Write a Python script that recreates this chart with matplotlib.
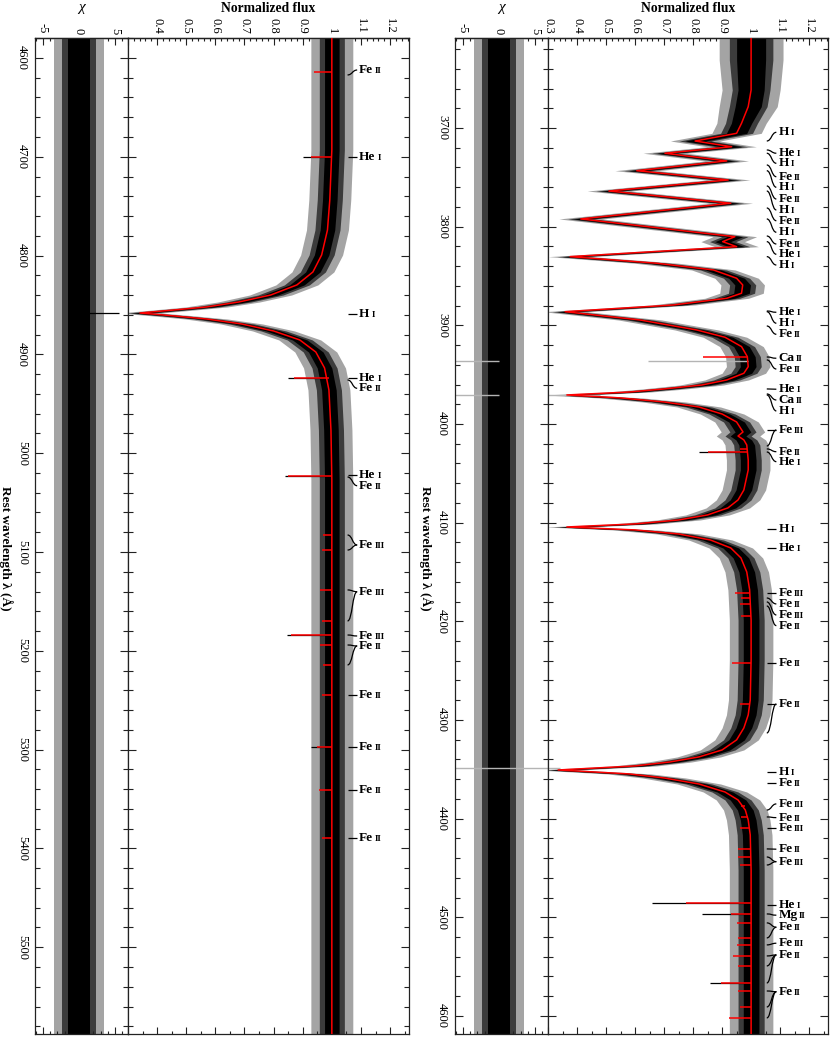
import numpy as np
import matplotlib
matplotlib.use("Agg")
import matplotlib.pyplot as plt
from matplotlib.path import Path
from matplotlib.patches import PathPatch
from matplotlib.ticker import MultipleLocator, FixedLocator, FuncFormatter

plt.rcParams['font.family'] = ['Liberation Serif', 'DejaVu Serif']
plt.rcParams['axes.unicode_minus'] = False

# ---------------- data ----------------
# Right panel: model (red) spectrum
R_MODEL_WL = [3608.8, 3631.1, 3661.5, 3678.4, 3695.2, 3705.4, 3713.2, 3719.0, 3725.6, 3733.4,
              3743.3, 3752.7, 3763.9, 3776.3, 3792.2, 3810.2, 3815.2, 3820.3, 3830.4, 3837.1,
              3843.9, 3852.3, 3859.1, 3867.5, 3872.6, 3879.4, 3886.2, 3894.6, 3904.7, 3912.1,
              3921.6, 3931.8, 3941.9, 3948.6, 3955.4, 3960.5, 3964.5, 3967.6, 3970.6, 3973.6,
              3977.7, 3982.8, 3989.9, 3998.0, 4008.1, 4012.2, 4016.2, 4021.3, 4036.5, 4046.6,
              4066.9, 4077.0, 4085.1, 4092.2, 4097.3, 4101.3, 4104.4, 4107.4, 4111.5, 4117.6,
              4125.7, 4135.8, 4150.0, 4168.2, 4198.6, 4239.1, 4279.7, 4294.9, 4308.1, 4320.2,
              4330.4, 4337.5, 4342.6, 4346.6, 4350.7, 4354.7, 4358.8, 4364.9, 4373.0, 4381.1,
              4391.3, 4401.4, 4416.5, 4452.0, 4512.8, 4583.8, 4618.3]
R_MODEL_FLUX = [1.0, 1.0, 1.0, 0.99, 0.967, 0.95, 0.807, 0.933, 0.703, 0.916,
                0.606, 0.921, 0.510, 0.930, 0.413, 0.944, 0.902, 0.950, 0.376, 0.675,
                0.870, 0.950, 0.971, 0.967, 0.916, 0.732, 0.359, 0.617, 0.812, 0.910,
                0.967, 0.987, 0.990, 0.975, 0.916, 0.83, 0.70, 0.58, 0.365, 0.55,
                0.70, 0.82, 0.90, 0.95, 0.972, 0.955, 0.975, 0.985, 0.99, 0.99,
                0.975, 0.955, 0.92, 0.85, 0.75, 0.60, 0.365, 0.60, 0.75, 0.86,
                0.93, 0.965, 0.985, 0.995, 1.0, 1.0, 0.997, 0.99, 0.975, 0.95,
                0.90, 0.82, 0.72, 0.60, 0.335, 0.58, 0.70, 0.82, 0.91, 0.955,
                0.98, 0.99, 0.997, 1.0, 1.0, 1.0, 1.0]
# narrow metal / helium lines in the model
R_SPIKE_WL = [3932.1, 4025.3, 4028.4, 4171.0, 4176.3, 4182.4, 4194.6, 4241.9, 4283.8, 4387.2,
              4398.3, 4409.5, 4430.8, 4438.9, 4447.0, 4485.5, 4496.6, 4505.7, 4520.9, 4528.0,
              4539.2, 4549.3, 4566.5, 4574.7, 4590.9, 4602.0]
R_SPIKE_MIN = [0.835, 0.96, 0.85, 0.945, 0.965, 0.96, 0.965, 0.935, 0.96, 0.965,
               0.965, 0.96, 0.955, 0.955, 0.96, 0.775, 0.93, 0.95, 0.955, 0.95,
               0.937, 0.955, 0.895, 0.955, 0.96, 0.925]
R_SPIKE_TOP = [0.987, 0.985, 0.985, 0.995, 0.997, 0.998, 1.0, 1.0, 0.997, 0.98,
               0.99, 0.995, 1.0, 1.0, 1.0, 1.0, 1.0, 1.0, 1.0, 1.0,
               1.0, 1.0, 1.0, 1.0, 1.0, 1.0]
# deepest observed (black) spikes
R_OBS_SPIKE_WL = [4028.4, 4485.5, 4496.6, 4566.5]
R_OBS_SPIKE_MIN = [0.82, 0.66, 0.83, 0.86]
# masked (grey) observed points: flux range and residual range
R_MASK_WL = [3935.9, 3970.6, 4348.6]
R_MASK_FLUX_LO = [0.645, 0.28, 0.28]
R_MASK_FLUX_HI = [0.99, 0.48, 0.34]
R_MASK_CHI_LO = [-7.0, -7.0, -7.0]
R_MASK_CHI_HI = [0.0, 0.0, 7.0]
# observed noise level (flux half-widths: dense core, middle, outer spikes)
R_NOISE_EDGES = [3600.0, 3650.0, 3690.0, 3720.0, 4620.0]
R_NOISE_INNER = [0.05, 0.045, 0.035, 0.027]
R_NOISE_MID = [0.075, 0.065, 0.055, 0.045]
R_NOISE_OUTER = [0.11, 0.10, 0.085, 0.075]

# Left panel
L_MODEL_WL = [4579.8, 4642.5, 4693.1, 4743.7, 4774.1, 4799.4, 4816.6, 4829.7, 4839.9, 4847.0,
              4852.0, 4855.0, 4858.1, 4861.1, 4864.2, 4869.2, 4876.3, 4885.4, 4897.6, 4913.8,
              4936.0, 4976.5, 5027.1, 5148.6, 5351.0, 5587.8]
L_MODEL_FLUX = [1.0, 1.0, 1.0, 0.993, 0.985, 0.965, 0.935, 0.88, 0.79, 0.68,
                0.57, 0.46, 0.341, 0.46, 0.57, 0.69, 0.80, 0.89, 0.945, 0.975,
                0.99, 0.997, 1.0, 1.0, 1.0, 1.0]
L_SPIKE_WL = [4614.2, 4700.2, 4923.9, 5023.1, 5082.8, 5098.0, 5138.4, 5169.8, 5184.0, 5194.1,
              5214.4, 5244.7, 5297.3, 5340.9, 5389.4]
L_SPIKE_MIN = [0.94, 0.93, 0.87, 0.85, 0.97, 0.965, 0.96, 0.965, 0.86, 0.96,
               0.97, 0.965, 0.95, 0.955, 0.965]
L_SPIKE_TOP = [1.0, 1.0, 0.99, 1.0, 1.0, 1.0, 1.0, 1.0, 1.0, 1.0,
               1.0, 1.0, 1.0, 1.0, 1.0]
L_OBS_SPIKE_WL = [4700.2, 4923.9, 5023.1, 5184.0, 5297.3]
L_OBS_SPIKE_MIN = [0.90, 0.85, 0.84, 0.845, 0.93]
L_CHI_SPIKE_WL = [4858.1]
L_CHI_SPIKE_HI = [5.5]
L_NOISE_EDGES = [4570.0, 5600.0]
L_NOISE_INNER = [0.025]
L_NOISE_MID = [0.043]
L_NOISE_OUTER = [0.072]

# residual scatter (same in both panels): dense core, middle, outer spikes
CHI_INNER = 1.5
CHI_MID = 2.4
CHI_OUTER = 3.5

# Line identifications: element, ion stage, label position, line positions
R_LAB_EL = ['H', 'He', 'H', 'Fe', 'H', 'Fe', 'H', 'Fe', 'H', 'Fe', 'He', 'H',
            'He', 'H', 'Fe', 'Ca', 'Fe', 'He', 'Ca', 'H', 'Fe', 'Fe', 'He',
            'H', 'He', 'Fe', 'Fe', 'Fe', 'Fe', 'Fe', 'Fe',
            'H', 'Fe', 'Fe', 'Fe', 'Fe', 'Fe', 'Fe',
            'He', 'Mg', 'Fe', 'Fe', 'Fe', 'Fe']
R_LAB_ION = ['I', 'I', 'I', 'II', 'I', 'II', 'I', 'II', 'I', 'II', 'I', 'I',
             'I', 'I', 'II', 'II', 'II', 'I', 'II', 'I', 'III', 'II', 'I',
             'I', 'I', 'III', 'II', 'III', 'II', 'II', 'II',
             'I', 'II', 'III', 'II', 'III', 'II', 'III',
             'I', 'II', 'II', 'III', 'II', 'II']
R_LAB_WL = [3704.4, 3725.6, 3735.8, 3749.4, 3760.1, 3772.0, 3783.1, 3794.0, 3805.7, 3817.6, 3828.0, 3838.9,
            3886.8, 3897.9, 3909.1, 3933.4, 3944.3, 3964.8, 3975.7, 3986.8, 4006.1, 4028.1, 4038.2,
            4106.7, 4126.0, 4171.0, 4182.4, 4193.6, 4204.4, 4241.9, 4283.8,
            4352.4, 4364.2, 4385.1, 4399.0, 4409.8, 4431.0, 4443.6,
            4487.5, 4497.9, 4510.1, 4526.3, 4538.2, 4575.4]
R_LAB_LINES = [[3713.2], [3722.3], [3725.6], [3737.5], [3743.3], [3758.8], [3763.9], [3781.1], [3792.2],
               [3809.5], [3815.2], [3830.4],
               [3885.5], [3886.2], [3900.7], [3932.1], [3935.1], [3964.5], [3969.6], [3970.6],
               [4006.1, 4022.3], [4025.3], [4028.4],
               [4106.7], [4126.0], [4171.0], [4176.4], [4180.4], [4184.5], [4241.9], [4283.8, 4313.2],
               [4352.4], [4364.2], [4391.3], [4398.3], [4409.8], [4430.7], [4438.9, 4447.0],
               [4487.5], [4496.6], [4505.7, 4520.9], [4528.0], [4539.2, 4549.3, 4566.6],
               [4574.7, 4590.9, 4602.0]]

L_LAB_EL = ['Fe', 'He', 'H', 'He', 'Fe', 'He', 'Fe', 'Fe', 'Fe', 'Fe', 'Fe', 'Fe', 'Fe', 'Fe', 'Fe']
L_LAB_ION = ['II', 'I', 'I', 'I', 'II', 'I', 'II', 'III', 'III', 'III', 'II', 'II', 'II', 'II', 'II']
L_LAB_WL = [4612.2, 4700.5, 4859.1, 4923.6, 4934.3, 5022.1, 5032.9, 5092.9, 5140.2, 5185.0,
            5195.1, 5244.7, 5297.0, 5340.9, 5389.7]
L_LAB_LINES = [[4617.2], [4700.5], [4859.1], [4923.9], [4925.9], [5022.1], [5024.1],
               [5082.8, 5098.0], [5138.4, 5169.8], [5184.0], [5194.1, 5214.3],
               [5244.7], [5297.0], [5340.9], [5389.7]]

FLUX_TICKS = [0.3, 0.4, 0.5, 0.6, 0.7, 0.8, 0.9, 1.0, 1.1, 1.2]
CHI_TICKS = [-5, 0, 5]

# ---------------- layout ----------------
W, H = 830, 1039
fig = plt.figure(figsize=(W / 100, H / 100), dpi=100)
fig.patch.set_facecolor('white')

TOP, BOT = 38, 1034


def fig_axes(x0, x1):
    return fig.add_axes([x0 / W, 1 - BOT / H, (x1 - x0) / W, (BOT - TOP) / H])


FLUX_LIM = (0.3, 1.265)
CHI_LIM = (-6.1, 6.8)
X_CONN0, X_CONN1, X_TEXT = 1.054, 1.087, 1.094
BAND_COLORS = ['#a4a4a4', '#3c3c3c', 'black']


def level_at(edges, vals, wl):
    idx = np.clip(np.searchsorted(edges, wl, side='right') - 1, 0, len(vals) - 1)
    return np.array(vals)[idx]


def style_axes(ax, ylim, xlim, xmajor, xminor_top, xminor_bot, labels_y, hide_first=False):
    ax.set_ylim(ylim[1], ylim[0])
    ax.set_xlim(*xlim)
    for s in ax.spines.values():
        s.set_linewidth(0.9)
        s.set_color('#222222')
    ax.yaxis.set_major_locator(MultipleLocator(100))
    ax.yaxis.set_minor_locator(MultipleLocator(20))
    ax.tick_params(axis='y', which='both', direction='in', left=True, right=True,
                   labelleft=labels_y, labelright=False, width=0.8, color='#222222')
    ax.tick_params(axis='y', which='major', length=6)
    ax.tick_params(axis='y', which='minor', length=3.5)
    if labels_y:
        ax.yaxis.set_major_formatter(FuncFormatter(lambda v, p: '%d' % round(v)))
        ax.tick_params(axis='y', labelsize=9, pad=5)
        for lab in ax.get_yticklabels():
            lab.set_rotation(270)
            lab.set_va('center')
            lab.set_ha('right')
    ax.xaxis.set_major_locator(FixedLocator(xmajor))
    ax.xaxis.set_minor_locator(MultipleLocator(xminor_bot))
    ax.tick_params(axis='x', which='both', direction='in', bottom=True, top=False,
                   labelbottom=False, width=0.8, color='#222222')
    ax.tick_params(axis='x', which='major', length=5)
    ax.tick_params(axis='x', which='minor', length=2.5)
    sec = ax.secondary_xaxis('top')
    sec.xaxis.set_major_locator(FixedLocator(xmajor))
    sec.xaxis.set_minor_locator(MultipleLocator(xminor_top))
    first = xmajor[0]

    def fmt(v, p):
        if hide_first and abs(v - first) < 1e-6:
            return ''
        return '%g' % round(v, 2)
    sec.xaxis.set_major_formatter(FuncFormatter(fmt))
    sec.tick_params(axis='x', which='both', direction='in', width=0.8, color='#222222',
                    labelsize=9, pad=3)
    sec.tick_params(axis='x', which='major', length=5)
    sec.tick_params(axis='x', which='minor', length=2.5)
    sec.spines['top'].set_linewidth(0.9)
    for lab in sec.get_xticklabels():
        lab.set_rotation(270)
        lab.set_ha('center')
        lab.set_va('bottom')
    return sec


def draw_panel(x_chi0, x_flux0, x_flux1, ylim, mwl, mfl, swl, smin, stop, owl, omin,
               nedges, nlevels, lab_el, lab_ion, lab_wl, lab_lines,
               mask=None, chi_spikes=None, hide_first=False):
    ax_c = fig_axes(x_chi0, x_flux0)
    ax_f = fig_axes(x_flux0, x_flux1)
    mwl = np.array(mwl)
    mfl = np.array(mfl)

    # residual scatter band
    for w, col, z in zip([CHI_OUTER, CHI_MID, CHI_INNER], BAND_COLORS, [1, 1.5, 2]):
        ax_c.fill_betweenx(list(ylim), -w, w, color=col, lw=0, zorder=z)
    if chi_spikes is not None:
        ax_c.hlines(chi_spikes[0], 0, chi_spikes[1], color='black', lw=0.9, zorder=2)

    # observed spectrum scatter band around the model
    for lev, col, z in zip(nlevels, BAND_COLORS, [1, 1.5, 2]):
        n = level_at(nedges, lev, mwl)
        ax_f.fill_betweenx(mwl, mfl - n, mfl + n, color=col, lw=0, zorder=z)
    ax_f.hlines(owl, omin, 1.0, color='black', lw=0.9, zorder=2)

    if mask is not None:
        mwl_, flo, fhi, clo, chi = mask
        ax_f.hlines(mwl_, flo, fhi, color='#b4b4b4', lw=1.0, zorder=2.5)
        ax_c.hlines(mwl_, clo, chi, color='#b4b4b4', lw=1.0, zorder=2.5)

    # model
    ax_f.plot(mfl, mwl, color='red', lw=1.1, zorder=3)
    ax_f.hlines(swl, smin, stop, color='red', lw=1.1, zorder=3)

    style_axes(ax_c, ylim, CHI_LIM, CHI_TICKS, 1, 1, True)
    style_axes(ax_f, ylim, FLUX_LIM, FLUX_TICKS, 0.02, 0.05, False, hide_first=hide_first)

    # line identifications
    for el, ion, wl, lines in zip(lab_el, lab_ion, lab_wl, lab_lines):
        for ln in lines:
            if abs(ln - wl) < 0.3:
                ax_f.plot([X_CONN0, X_CONN1], [wl, wl], color='black', lw=0.9, zorder=4,
                          solid_capstyle='butt')
            else:
                xm = 0.5 * (X_CONN0 + X_CONN1)
                verts = [(X_CONN0, ln), (xm, ln), (xm, wl), (X_CONN1, wl)]
                codes = [Path.MOVETO, Path.CURVE4, Path.CURVE4, Path.CURVE4]
                ax_f.add_patch(PathPatch(Path(verts, codes), fill=False, lw=0.9,
                                         edgecolor='black', zorder=4))
        t = ax_f.text(X_TEXT, wl, el, fontsize=9.5, fontweight='bold', ha='left',
                      va='center', zorder=5)
        ax_f.annotate(ion, xy=(1, 0), xycoords=t, xytext=(1.2, 0.6), textcoords='offset points',
                      fontsize=6.2, fontweight='bold', ha='left', va='bottom', zorder=5)

    cx_c = 0.5 * (x_chi0 + x_flux0) / W
    cx_f = 0.5 * (x_flux0 + x_flux1) / W
    fig.text(cx_c, 1 - 8 / H, 'χ', fontsize=11, style='italic', ha='center', va='center')
    fig.text(cx_f, 1 - 8 / H, 'Normalized flux', fontsize=9.8, fontweight='bold',
             ha='center', va='center')
    fig.text((x_chi0 - 29) / W, 1 - 548 / H, 'Rest wavelength λ (Å)', fontsize=9.5,
             fontweight='bold', rotation=270, ha='center', va='center')
    return ax_c, ax_f


# right panel
draw_panel(455, 548, 828, (3608.8, 4618.3), R_MODEL_WL, R_MODEL_FLUX,
           R_SPIKE_WL, R_SPIKE_MIN, R_SPIKE_TOP, R_OBS_SPIKE_WL, R_OBS_SPIKE_MIN,
           R_NOISE_EDGES, [R_NOISE_OUTER, R_NOISE_MID, R_NOISE_INNER],
           R_LAB_EL, R_LAB_ION, R_LAB_WL, R_LAB_LINES,
           mask=(R_MASK_WL, R_MASK_FLUX_LO, R_MASK_FLUX_HI, R_MASK_CHI_LO, R_MASK_CHI_HI))

# left panel
draw_panel(35, 128, 409, (4579.8, 5587.8), L_MODEL_WL, L_MODEL_FLUX,
           L_SPIKE_WL, L_SPIKE_MIN, L_SPIKE_TOP, L_OBS_SPIKE_WL, L_OBS_SPIKE_MIN,
           L_NOISE_EDGES, [L_NOISE_OUTER, L_NOISE_MID, L_NOISE_INNER],
           L_LAB_EL, L_LAB_ION, L_LAB_WL, L_LAB_LINES,
           chi_spikes=(L_CHI_SPIKE_WL, L_CHI_SPIKE_HI), hide_first=True)

fig.savefig('out.png', dpi=100, facecolor='white')
